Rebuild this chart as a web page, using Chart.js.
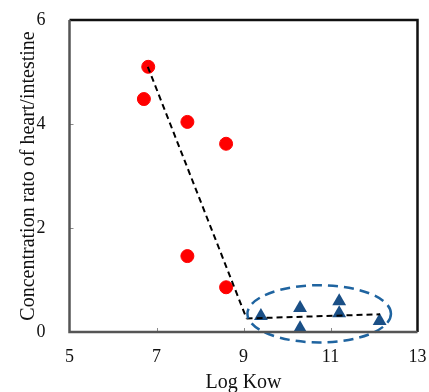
<!DOCTYPE html>
<html>
<head>
<meta charset="utf-8">
<script src="https://cdn.jsdelivr.net/npm/chart.js@4/dist/chart.umd.min.js"></script>
<style>
body{margin:0;background:#fff;}
#wrap{width:429px;height:392px;}
</style>
</head>
<body>
<div id="wrap"><canvas id="c" width="429" height="392"></canvas></div>
<script>
// data
const redX = [6.81, 6.71, 7.71, 8.6, 7.71, 8.6];
const redY = [5.1, 4.48, 4.04, 3.62, 1.46, 0.86];
const blueX = [9.4, 10.3, 10.3, 11.2, 11.2, 12.13];
const blueY = [0.31, 0.46, 0.07, 0.59, 0.36, 0.21];
const fit1X = [6.8, 9.07];
const fit1Y = [5.1, 0.26];
const fit2X = [9.07, 12.14];
const fit2Y = [0.26, 0.34];
const xTicks = [5, 7, 9, 11, 13];
const yTicks = [0, 2, 4, 6];
// dashed ellipse round the triangles (data units)
const ellipseCenter = [10.74, 0.35];
const ellipseRadii = [1.65, 0.55];

const pts = (xs, ys) => xs.map((x, i) => ({x: x, y: ys[i]}));

const serif = "'Liberation Serif', 'Times New Roman', serif";

const frame = {
  id: "frame",
  afterDraw(chart){
    const c = chart.ctx, a = chart.chartArea;
    const xs = chart.scales.x, ys = chart.scales.y;
    c.save();
    // inner tick marks
    c.strokeStyle = "#8a8a8a";
    c.lineWidth = 1;
    c.beginPath();
    xTicks.slice(1, -1).forEach(t => {
      const px = Math.round(xs.getPixelForValue(t)) + 0.5;
      c.moveTo(px, a.bottom); c.lineTo(px, a.bottom - 4);
    });
    yTicks.slice(1, -1).forEach(t => {
      const py = Math.round(ys.getPixelForValue(t)) + 0.5;
      c.moveTo(a.left, py); c.lineTo(a.left + 4, py);
    });
    c.stroke();
    // box
    c.lineWidth = 2.5;
    c.strokeStyle = "#111";
    c.beginPath();
    c.moveTo(a.left, a.top); c.lineTo(a.right, a.top); c.lineTo(a.right, a.bottom);
    c.stroke();
    c.strokeStyle = "#555";
    c.beginPath();
    c.moveTo(a.left, a.top); c.lineTo(a.left, a.bottom); c.lineTo(a.right, a.bottom);
    c.stroke();
    c.restore();
  }
};

const ellipse = {
  id: "ellipse",
  afterDatasetsDraw(chart){
    const c = chart.ctx;
    const xs = chart.scales.x, ys = chart.scales.y;
    const cx = xs.getPixelForValue(ellipseCenter[0]);
    const cy = ys.getPixelForValue(ellipseCenter[1]);
    const rx = xs.getPixelForValue(ellipseCenter[0] + ellipseRadii[0]) - cx;
    const ry = cy - ys.getPixelForValue(ellipseCenter[1] + ellipseRadii[1]);
    c.save();
    c.strokeStyle = "#1f64a0";
    c.lineWidth = 2.5;
    c.setLineDash([10, 6]);
    c.beginPath();
    c.ellipse(cx, cy, rx, ry, 0, 0, Math.PI * 2);
    c.stroke();
    c.restore();
  }
};

new Chart(document.getElementById("c"), {
  type: "scatter",
  data: {
    datasets: [
      {data: pts(fit1X, fit1Y), showLine: true, borderColor: "#000", borderWidth: 2,
       borderDash: [6, 4], pointRadius: 0, fill: false},
      {data: pts(fit2X, fit2Y), showLine: true, borderColor: "#000", borderWidth: 2,
       borderDash: [6, 4], pointRadius: 0, fill: false},
      {data: pts(redX, redY), backgroundColor: "#ff0000", borderColor: "#ff0000",
       pointRadius: 6.5, pointStyle: "circle"},
      {data: pts(blueX, blueY), backgroundColor: "#1a4f86", borderColor: "#1a4f86",
       pointRadius: 8, pointStyle: "triangle", borderWidth: 0}
    ]
  },
  options: {
    responsive: false,
    animation: false,
    layout: {padding: {top: 20, right: 11.5, left: 0, bottom: 0}},
    plugins: {legend: {display: false}, tooltip: {enabled: false}},
    scales: {
      x: {
        type: "linear", min: 5, max: 13,
        afterBuildTicks: s => { s.ticks = xTicks.map(v => ({value: v})); },
        afterFit: s => { s.height = 60; s.paddingLeft = 0; s.paddingRight = 0; },
        grid: {display: false, drawTicks: false},
        border: {display: false},
        ticks: {color: "#111", padding: 14, font: {family: serif, size: 18}},
        title: {display: true, text: "Log Kow", color: "#111", padding: 0,
                font: {family: serif, size: 20, lineHeight: 0.9}}
      },
      y: {
        type: "linear", min: 0, max: 6,
        afterBuildTicks: s => { s.ticks = yTicks.map(v => ({value: v})); },
        afterFit: s => { s.width = 69.5; s.paddingTop = 0; s.paddingBottom = 0; },
        grid: {display: false, drawTicks: false},
        border: {display: false},
        ticks: {color: "#111", padding: 24, font: {family: serif, size: 18}},
        title: {display: true, text: "Concentration rato of heart/intestine", color: "#111",
                padding: {top: 19, bottom: 0}, font: {family: serif, size: 20, lineHeight: 1}}
      }
    }
  },
  plugins: [ellipse, frame]
});
</script>
</body>
</html>
